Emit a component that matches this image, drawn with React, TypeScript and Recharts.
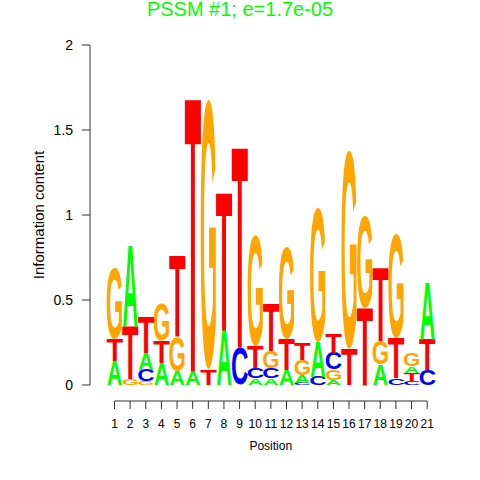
import { Bar, BarChart, ReferenceLine, XAxis, YAxis } from "recharts";

const TITLE = "PSSM #1; e=1.7e-05";

const positions = [1, 2, 3, 4, 5, 6, 7, 8, 9, 10, 11, 12, 13, 14, 15, 16, 17, 18, 19, 20, 21];

// letters of each column, bottom to top
const stackLetters = [
  "ATG", "GTA", "GCAT", "ATG", "AGT", "AT", "TG", "AT", "CT", "ACTG", "ACGT",
  "ATG", "CAGT", "CAG", "AGCT", "TG", "TG", "AGT", "CTG", "CTAG", "CTA",
];

// information content of each letter, same order
const stackHeights = [
  [0.14, 0.13, 0.42],
  [0.035, 0.305, 0.47],
  [0.02, 0.07, 0.1, 0.21],
  [0.13, 0.13, 0.22],
  [0.08, 0.2, 0.47],
  [0.08, 1.595],
  [0.09, 1.59],
  [0.32, 0.8],
  [0.22, 1.17],
  [0.04, 0.06, 0.13, 0.65],
  [0.04, 0.06, 0.1, 0.28],
  [0.09, 0.18, 0.54],
  [0.014, 0.045, 0.09, 0.1],
  [0.05, 0.2, 0.79],
  [0.03, 0.06, 0.1, 0.11],
  [0.21, 1.17],
  [0.45, 0.54],
  [0.12, 0.14, 0.43],
  [0.04, 0.235, 0.615],
  [0.025, 0.045, 0.04, 0.08],
  [0.09, 0.18, 0.33],
];

const yTicks = [0, 0.5, 1, 1.5, 2];

const LETTER_COLOR: Record<string, string> = {
  A: "#00FF00", C: "#0000FF", G: "#FFA500", T: "#FF0000",
};

// approx Liberation Sans Bold glyph boxes (units of 2048): xMin, xMax, yMin, yMax
const GLYPH: Record<string, number[]> = {
  A: [0, 1479, 0, 1409],
  C: [80, 1388, -24, 1433],
  G: [82, 1496, -24, 1433],
  T: [45, 1205, 0, 1409],
};

const RANKS = [0, 1, 2, 3];
const FONT = "'Liberation Sans', Arial, sans-serif";
const AXIS = "#333";
const X_AXIS_AT = -0.0941; // R draws the x axis a little below zero
const AXIS_GAP = 16;

const data = positions.map((p, i) => {
  const row: Record<string, string | number> = { pos: String(p) };
  RANKS.forEach((r) => {
    row[`h${r}`] = stackHeights[i][r] ?? 0;
    row[`l${r}`] = stackLetters[i][r] ?? "";
  });
  return row;
});

function Letter(props: any) {
  const { x, y, width, height, letter } = props;
  if (!letter || !(height > 0)) return null;
  const F = 100;
  const [x0, x1, y0, y1] = GLYPH[letter];
  const gw = ((x1 - x0) / 2048) * F;
  const gh = ((y1 - y0) / 2048) * F;
  const sx = (width - 0.6) / gw;
  const sy = height / gh;
  const cx = x + width / 2;
  return (
    <text
      transform={`translate(${cx},${y + height}) scale(${sx},${sy}) translate(0,${(y0 / 2048) * F})`}
      textAnchor="middle"
      fontFamily={FONT}
      fontWeight="bold"
      fontSize={F}
      fill={LETTER_COLOR[letter]}
    >
      {letter}
    </text>
  );
}

function PosTick({ x, y, payload }: any) {
  return (
    <g>
      <line x1={x} x2={x} y1={y + AXIS_GAP} y2={y + AXIS_GAP + 8} stroke={AXIS} />
      <text x={x} y={y + AXIS_GAP + 27} textAnchor="middle" fontSize={12} fill="#000">
        {payload.value}
      </text>
    </g>
  );
}

export default function App() {
  return (
    <div style={{ position: "absolute", left: 0, top: 0, width: 480, height: 480, background: "#fff", fontFamily: FONT }}>
      <BarChart
        width={480}
        height={480}
        data={data}
        margin={{ top: 45, right: 28.5, bottom: 27, left: 0 }}
        barCategoryGap={0}
        barGap={0}
      >
        <XAxis
          dataKey="pos"
          type="category"
          padding={{ left: 16.7, right: 16.5 }}
          height={68}
          axisLine={false}
          tickLine={false}
          tickSize={0}
          tickMargin={0}
          interval={0}
          tick={<PosTick />}
          label={{ value: "Position", position: "insideBottom", offset: 3, fill: "#000", fontSize: 12 }}
        />
        <YAxis
          type="number"
          domain={[0, 2]}
          ticks={yTicks}
          width={90}
          axisLine={{ stroke: AXIS }}
          tickSize={8}
          tickMargin={9}
          tickLine={{ stroke: AXIS }}
          tick={{ fill: "#000", fontSize: 14 }}
          label={{
            content: ({ viewBox }: any) => {
              const lx = viewBox.x + 38;
              const ly = viewBox.y + viewBox.height / 2;
              return (
                <text
                  x={lx}
                  y={ly}
                  transform={`rotate(-90 ${lx} ${ly})`}
                  textAnchor="middle"
                  dominantBaseline="central"
                  fontSize={15}
                  fill="#000"
                >
                  Information content
                </text>
              );
            },
          }}
        />
        <ReferenceLine
          ifOverflow="visible"
          stroke={AXIS}
          segment={[{ x: "1", y: X_AXIS_AT }, { x: "21", y: X_AXIS_AT }]}
        />
        {RANKS.map((r) => (
          <Bar
            key={r}
            dataKey={`h${r}`}
            stackId="logo"
            isAnimationActive={false}
            shape={(p: any) => <Letter {...p} letter={p.payload[`l${r}`]} />}
          />
        ))}
      </BarChart>
      <svg width={480} height={480} style={{ position: "absolute", left: 0, top: 0, pointerEvents: "none" }}>
        <text x={240} y={15.5} textAnchor="middle" fontSize={20} fill="#00FF00" fontFamily={FONT}>
          {TITLE}
        </text>
      </svg>
    </div>
  );
}
